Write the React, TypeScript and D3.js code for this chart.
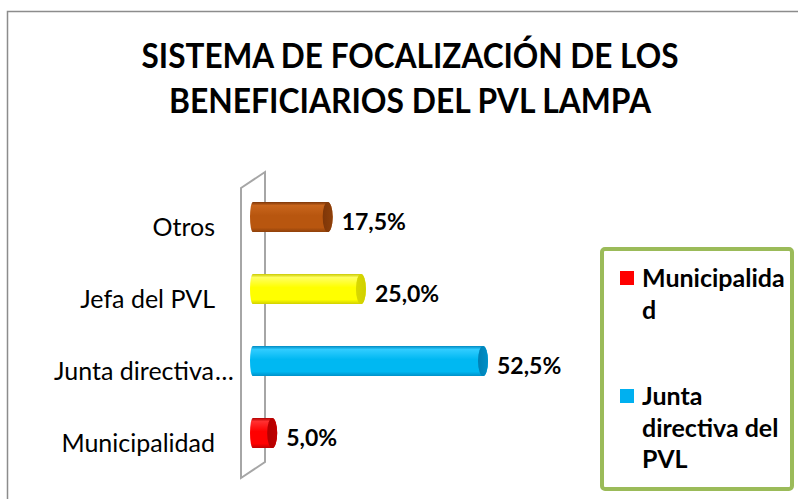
import React from "react";
import * as d3 from "d3";

const categories = ["Municipalidad", "Junta directiva del PVL", "Jefa del PVL", "Otros"];
const axisLabels = ["Municipalidad", "Junta directiva…", "Jefa del PVL", "Otros"];
const values = [5.0, 52.5, 25.0, 17.5];
const valueLabels = ["5,0%", "52,5%", "25,0%", "17,5%"];
const titleLines = ["SISTEMA DE FOCALIZACIÓN DE LOS", "BENEFICIARIOS DEL PVL LAMPA"];
const legendLabels = [["Municipalida", "d"], ["Junta", "directiva del", "PVL"]];
const legendColors = ["#FF0000", "#00B0F0"];

const palettes = [
  { top: "#B00000", light: "#FF3030", main: "#FF0000", dark: "#C00000", cap: "#B00000" },
  { top: "#0088C0", light: "#30CCFF", main: "#00B8F2", dark: "#0090C8", cap: "#0080B4" },
  { top: "#C8C800", light: "#FFFF60", main: "#FFFF00", dark: "#D0D000", cap: "#D8D800" },
  { top: "#7A3408", light: "#C8651C", main: "#B8560F", dark: "#8E400A", cap: "#7E3608" },
];

export default function App() {
  const W = 798, H = 499;
  const font = "Lato, 'Open Sans', sans-serif";
  const y = d3.scaleBand<string>().domain([...categories].reverse()).range([181, 469]).paddingInner(0.58).paddingOuter(0.29);
  const x = d3.scaleLinear().domain([0, 60]).range([250, 516.3]);
  const capRx = 5;

  return (
    <svg width={W} height={H} style={{ position: "absolute", left: 0, top: 0, background: "#fff" }} fontFamily={font}>
      <defs>
        {palettes.map((p, i) => (
          <linearGradient key={i} id={`g${i}`} x1="0" y1="0" x2="0" y2="1">
            <stop offset="0" stopColor={p.top} />
            <stop offset="0.12" stopColor={p.light} />
            <stop offset="0.45" stopColor={p.main} />
            <stop offset="0.85" stopColor={p.main} />
            <stop offset="1" stopColor={p.dark} />
          </linearGradient>
        ))}
        {palettes.map((p, i) => (
          <linearGradient key={"c" + i} id={`c${i}`} x1="0" y1="0" x2="1" y2="0">
            <stop offset="0" stopColor={p.cap} />
            <stop offset="1" stopColor={p.dark} />
          </linearGradient>
        ))}
      </defs>
      <rect x={7.5} y={11.5} width={820} height={520} fill="#fff" stroke="#8C8C8C" strokeWidth={1.5} />
      {titleLines.map((t, i) => (
        <text key={i} x={410} y={68 + i * 45} textAnchor="middle" fontWeight="bold" fontSize={34}
          textLength={i === 0 ? 537 : 482} lengthAdjust="spacingAndGlyphs" fill="#000">{t}</text>
      ))}
      {/* back wall */}
      <path d="M241,188 L265,172 L265,462 L241,478 Z" fill="none" stroke="#A6A6A6" strokeWidth={2} />
      {categories.map((c, i) => {
        const y0 = y(c)!;
        const h = y.bandwidth();
        const cy = y0 + h / 2;
        const x0 = x(0);
        const x1 = x(values[i]);
        const r = h / 2;
        const d = `M${x0 + 3},${y0} L${x1},${y0} A${capRx},${r} 0 0 1 ${x1},${y0 + h} L${x0 + 3},${y0 + h} A3,${r} 0 0 1 ${x0 + 3},${y0} Z`;
        const lab = axisLabels[i];
        const trunc = lab.endsWith("…");
        return (
          <g key={c}>
            <path d={d} fill={`url(#g${i})`} />
            <ellipse cx={x1} cy={cy} rx={capRx} ry={r} fill={`url(#c${i})`} />
            <text x={x1 + capRx + 9} y={cy + 13} fontWeight="bold" fontSize={23} fill="#000">{valueLabels[i]}</text>
            {trunc ? (
              <>
                <text x={214} y={cy + 19} textAnchor="end" fontSize={25} fill="#000">{lab.slice(0, -1)}</text>
                <text x={215} y={cy + 19} fontSize={25} fill="#000">…</text>
              </>
            ) : (
              <text x={215} y={cy + 19} textAnchor="end" fontSize={25} fill="#000">{lab}</text>
            )}
          </g>
        );
      })}
      <rect x={602} y={249} width={190} height={240} rx={3} fill="#fff" stroke="#9BBB59" strokeWidth={4} />
      {legendLabels.map((lines, i) => {
        const base = i === 0 ? 287 : 405;
        return (
          <g key={i}>
            <rect x={620} y={base - 16} width={14} height={14} fill={legendColors[i]} />
            {lines.map((l, j) => (
              <text key={j} x={642} y={base + j * 31.5} fontWeight="bold" fontSize={25} fill="#000">{l}</text>
            ))}
          </g>
        );
      })}
    </svg>
  );
}
